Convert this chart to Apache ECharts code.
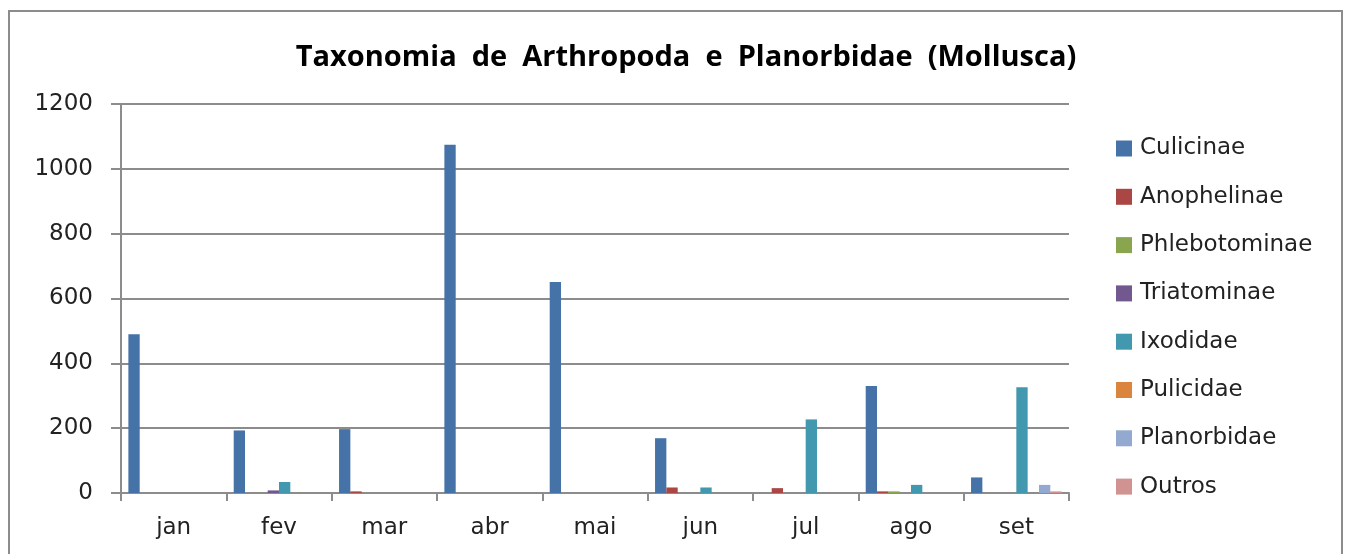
<!DOCTYPE html>
<html>
<head>
<meta charset="utf-8">
<script src="https://cdn.jsdelivr.net/npm/echarts@6/dist/echarts.min.js"></script>
<style>
  html, body { margin: 0; padding: 0; background: #fff; }
  #frame { position: absolute; left: 8px; top: 10px; width: 1331px; height: 560px; border: 2px solid #8c8c8c; }
  #main { position: absolute; left: 0; top: 0; width: 1349px; height: 554px; }
</style>
</head>
<body>
<div id="frame"></div>
<div id="main"></div>
<script>
// meses
var meses = ['jan', 'fev', 'mar', 'abr', 'mai', 'jun', 'jul', 'ago', 'set'];
var nomes = ['Culicinae', 'Anophelinae', 'Phlebotominae', 'Triatominae', 'Ixodidae', 'Pulicidae', 'Planorbidae', 'Outros'];
var cores = ['#4572A7', '#AA4643', '#89A54E', '#71588F', '#4198AF', '#DB843D', '#93A9CF', '#D19392'];

var culicinae     = [490, 193, 197, 1074, 651, 169, 0, 330, 48];
var anophelinae   = [0, 0, 5, 0, 0, 17, 15, 5, 0];
var phlebotominae = [0, 0, 0, 0, 0, 0, 0, 5, 0];
var triatominae   = [0, 8, 0, 0, 0, 0, 0, 0, 0];
var ixodidae      = [0, 34, 0, 0, 0, 17, 227, 25, 326];
var pulicidae     = [0, 0, 0, 0, 0, 0, 0, 0, 0];
var planorbidae   = [0, 0, 0, 0, 0, 0, 0, 0, 25];
var outros        = [0, 0, 0, 0, 0, 0, 0, 0, 5];

var valores = [culicinae, anophelinae, phlebotominae, triatominae, ixodidae, pulicidae, planorbidae, outros];

var myChart = echarts.init(document.getElementById('main'));

var series = [];
for (var i = 0; i < nomes.length; i++) {
    series.push({
        name: nomes[i],
        type: 'bar',
        data: valores[i],
        barGap: '0%',
        barCategoryGap: '14%',
        itemStyle: { color: cores[i] }
    });
}

var fonte = 'DejaVu Sans';

option = {
    animation: false,
    color: cores,
    title: {
        text: 'Taxonomia  de  Arthropoda  e  Planorbidae  (Mollusca)',
        left: 681,
        textAlign: 'center',
        top: 38,
        textStyle: { fontFamily: 'Open Sans', fontWeight: 'bold', fontSize: 29, color: '#000' }
    },
    legend: {
        orient: 'vertical',
        left: 1116,
        top: 137,
        padding: 0,
        itemWidth: 16,
        itemHeight: 16,
        itemGap: 25.3,
        icon: 'rect',
        textStyle: { fontFamily: fonte, fontSize: 23, color: '#222', padding: [0, 0, 0, 3] },
        data: nomes
    },
    grid: { left: 121, right: 280, top: 104, bottom: 61, containLabel: false },
    xAxis: {
        type: 'category',
        data: meses,
        axisLine: { lineStyle: { color: '#8c8c8c', width: 2 } },
        axisTick: { show: true, length: 8, lineStyle: { color: '#8c8c8c', width: 2 } },
        axisLabel: { fontFamily: fonte, fontSize: 23, color: '#222', margin: 24 }
    },
    yAxis: {
        type: 'value',
        min: 0,
        max: 1200,
        interval: 200,
        axisLine: { show: true, lineStyle: { color: '#8c8c8c', width: 2 } },
        axisTick: { show: true, length: 10, lineStyle: { color: '#8c8c8c', width: 2 } },
        axisLabel: { fontFamily: fonte, fontSize: 23, color: '#222', margin: 28, formatter: function (v) { return String(v); } },
        splitLine: { lineStyle: { color: '#8c8c8c', width: 2 } }
    },
    series: series
};

myChart.setOption(option);
</script>
</body>
</html>
